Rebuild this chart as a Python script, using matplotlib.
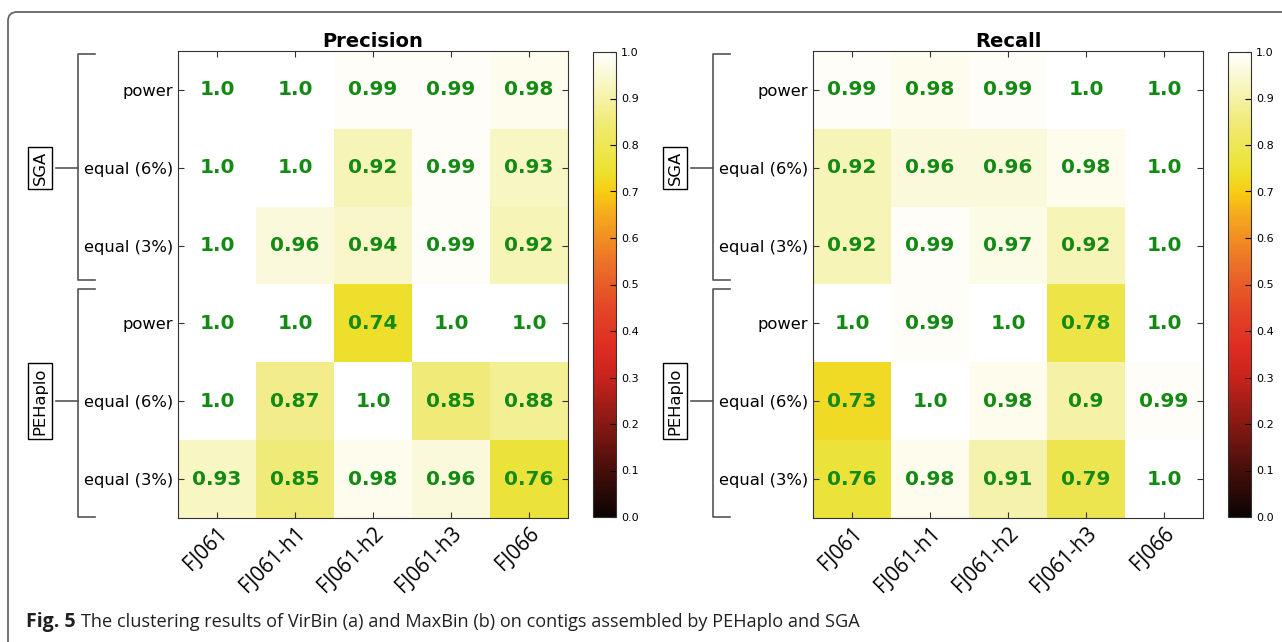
import numpy as np
import matplotlib
matplotlib.use('Agg')
import matplotlib.pyplot as plt
from matplotlib.patches import FancyBboxPatch
from matplotlib.colors import LinearSegmentedColormap

plt.rcParams['font.family'] = 'DejaVu Sans'

# data
samples = ['FJ061', 'FJ061-h1', 'FJ061-h2', 'FJ061-h3', 'FJ066']
modes = ['power', 'equal (6%)', 'equal (3%)', 'power', 'equal (6%)', 'equal (3%)']
groups = ['SGA', 'PEHaplo']

precision = [
    [1.0, 1.0, 0.99, 0.99, 0.98],
    [1.0, 1.0, 0.92, 0.99, 0.93],
    [1.0, 0.96, 0.94, 0.99, 0.92],
    [1.0, 1.0, 0.74, 1.0, 1.0],
    [1.0, 0.87, 1.0, 0.85, 0.88],
    [0.93, 0.85, 0.98, 0.96, 0.76],
]
recall = [
    [0.99, 0.98, 0.99, 1.0, 1.0],
    [0.92, 0.96, 0.96, 0.98, 1.0],
    [0.92, 0.99, 0.97, 0.92, 1.0],
    [1.0, 0.99, 1.0, 0.78, 1.0],
    [0.73, 1.0, 0.98, 0.9, 0.99],
    [0.76, 0.98, 0.91, 0.79, 1.0],
]

# muted version of 'hot', as it looks in the printed figure
hot_stops = [
    (0.0, (12, 4, 4)), (0.1, (70, 14, 10)), (0.2, (135, 25, 20)), (0.3, (200, 35, 28)),
    (0.365, (222, 45, 35)), (0.45, (228, 70, 38)), (0.55, (236, 115, 40)),
    (0.65, (245, 170, 30)), (0.7, (248, 205, 18)), (0.746, (236, 226, 48)),
    (0.85, (240, 235, 120)), (1.0, (255, 255, 255)),
]
cmap = LinearSegmentedColormap.from_list(
    'hot_print', [(p, tuple(c / 255 for c in rgb)) for p, rgb in hot_stops])

W, H = 1282, 642
fig = plt.figure(figsize=(W / 100, H / 100), dpi=100)


def px_axes(x0, y0, x1, y1):
    return fig.add_axes([x0 / W, 1 - y1 / H, (x1 - x0) / W, (y1 - y0) / H])


# overlay in pixel coords for brackets, frame and caption
ov = fig.add_axes([0, 0, 1, 1], zorder=-1)
ov.set_xlim(0, W)
ov.set_ylim(H, 0)
ov.axis('off')

frame = FancyBboxPatch((8, 12), 1320, 680, boxstyle='round,pad=0,rounding_size=9',
                       fc='none', ec='#666666', lw=1.3)
ov.add_patch(frame)


def heatmap(vals, title, x0, cbx):
    data = np.array(vals)
    ax = px_axes(x0, 51, x0 + 390, 518)
    im = ax.imshow(data, cmap=cmap, vmin=0, vmax=1, interpolation='nearest', aspect='auto')
    for i in range(data.shape[0]):
        for j in range(data.shape[1]):
            ax.text(j, i, str(vals[i][j]), ha='center', va='center',
                    color='#138a13', fontsize=14.5, fontweight='bold')
    ax.set_xticks(range(len(samples)))
    ax.set_xticklabels(samples, rotation=45, ha='right', rotation_mode='anchor',
                       fontsize=15, family='Open Sans')
    ax.set_yticks(range(len(modes)))
    ax.set_yticklabels(modes, fontsize=11.8)
    ax.tick_params(direction='in', top=True, right=True, length=4, color='#333333')
    for s in ax.spines.values():
        s.set_color('#333333')
    ax.set_title(title, fontsize=14, fontweight='bold', pad=3)

    cax = px_axes(cbx, 52, cbx + 23, 517)
    cb = fig.colorbar(im, cax=cax, ticks=np.arange(0, 1.01, 0.1))
    cb.ax.tick_params(labelsize=8, direction='in', length=4)
    cb.ax.set_yticklabels(['%.1f' % t for t in np.arange(0, 1.01, 0.1)])
    cb.outline.set_edgecolor('#333333')

    # group brackets on the left
    row_h = 467 / len(modes)
    bx = x0 - 100
    for g, name in enumerate(groups):
        top = 51 + g * 3 * row_h + 3
        bot = 51 + (g + 1) * 3 * row_h - 1
        if g == 0:
            bot -= 4
        else:
            top += 1
        mid = 51 + (g * 3 + 1.5) * row_h
        ov.plot([bx + 17, bx, bx, bx + 17], [top, top, bot, bot], color='#555555', lw=1.2)
        ov.plot([bx - 22, bx], [mid, mid], color='#555555', lw=1.2)
        ov.text(bx - 38, mid, name, rotation=90, ha='center', va='center', fontsize=11.8,
                bbox=dict(boxstyle='square,pad=0.25', fc='white', ec='black', lw=1))
    return ax


heatmap(precision, 'Precision', 178, 593)
heatmap(recall, 'Recall', 813, 1228)

ov.text(26, 622, 'Fig. 5', fontsize=14, fontweight='bold', family='Open Sans',
        color='#231f20', va='center')
ov.text(81, 622, 'The clustering results of VirBin (a) and MaxBin (b) on contigs assembled by PEHaplo and SGA',
        fontsize=13.1, family='Open Sans', color='#231f20', va='center')

fig.savefig('out.png', dpi=100)
